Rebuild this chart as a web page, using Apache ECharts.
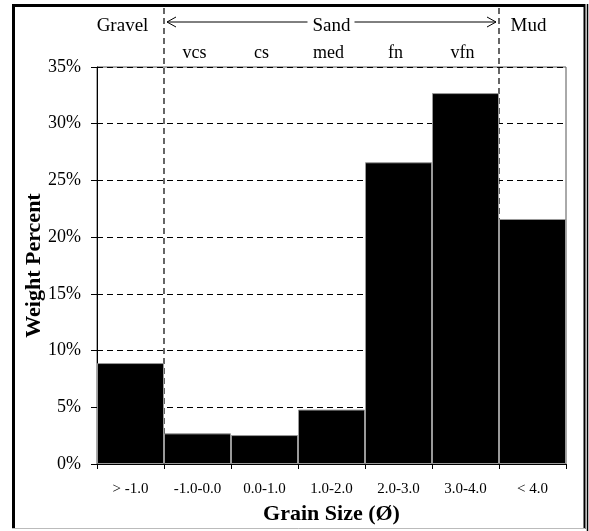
<!DOCTYPE html>
<html>
<head>
<meta charset="utf-8">
<script src="https://cdn.jsdelivr.net/npm/echarts@6/dist/echarts.min.js"></script>
<style>html,body{margin:0;padding:0;background:#fff;}#c{width:589px;height:531px;}</style>
</head>
<body>
<div id="c"></div>
<script>
const categories = ['> -1.0', '-1.0-0.0', '0.0-1.0', '1.0-2.0', '2.0-3.0', '3.0-4.0', '< 4.0'];
const values = [8.9, 2.7, 2.55, 4.8, 26.6, 32.7, 21.6];
const subLabels = ['', 'vcs', 'cs', 'med', 'fn', 'vfn', ''];
const classLabels = ['Gravel', '', '', 'Sand', '', '', 'Mud'];
const yTicks = { min: 0, max: 35, interval: 5 };

const FONT = 'Liberation Serif';
const chart = echarts.init(document.getElementById('c'), null, { renderer: 'canvas' });

const option = {
  animation: false,
  backgroundColor: '#fff',
  grid: { left: 97, right: 23, top: 67, bottom: 67, show: true, borderColor: '#555', borderWidth: 1, outerBoundsMode: 'none' },
  xAxis: [
    {
      type: 'category', data: categories, position: 'bottom', boundaryGap: true,
      axisLine: { show: true, lineStyle: { color: '#000', width: 1 } },
      axisTick: { show: true, length: 5, lineStyle: { color: '#000' } },
      axisLabel: { interval: 0, margin: 18, fontFamily: FONT, fontSize: 15, color: '#000' },
      splitLine: { show: false },
      name: 'Grain Size (Ø)', nameLocation: 'middle', nameGap: 39, nameMoveOverlap: false,
      nameTextStyle: { fontFamily: FONT, fontWeight: 'bold', fontSize: 22, color: '#000' }
    },
    {
      type: 'category', data: subLabels, position: 'top', boundaryGap: true,
      axisLine: { show: false }, axisTick: { show: false }, splitLine: { show: false },
      axisLabel: {
        interval: 0, margin: 5, fontFamily: FONT, fontSize: 18, color: '#000',
        formatter: v => v ? '{s|' + v + '}' : '',
        rich: { s: { fontFamily: FONT, fontSize: 18, color: '#000', padding: [0, 6, 0, 0] } }
      }
    },
    {
      type: 'category', data: classLabels, position: 'top', offset: 27, boundaryGap: true,
      axisLine: { show: false }, axisTick: { show: false }, splitLine: { show: false },
      axisLabel: {
        interval: 0, margin: 4, fontFamily: FONT, fontSize: 19, color: '#000',
        formatter: v => v === 'Gravel' ? '{g|' + v + '}' : (v === 'Mud' ? '{m|' + v + '}' : v),
        rich: {
          g: { fontFamily: FONT, fontSize: 19, color: '#000', padding: [0, 16, 0, 0] },
          m: { fontFamily: FONT, fontSize: 19, color: '#000', padding: [0, 8, 0, 0] }
        }
      }
    }
  ],
  yAxis: {
    type: 'value', min: yTicks.min, max: yTicks.max, interval: yTicks.interval,
    axisLine: { show: true, lineStyle: { color: '#000', width: 1 } },
    axisTick: { show: true, length: 6, lineStyle: { color: '#000' } },
    axisLabel: { formatter: '{value}%', margin: 16, fontFamily: FONT, fontSize: 18, color: '#000' },
    splitLine: { show: true, lineStyle: { type: [6, 4], color: '#000', width: 1 } },
    name: 'Weight Percent', nameLocation: 'middle', nameGap: 52, nameRotate: 90, nameMoveOverlap: false,
    nameTextStyle: { fontFamily: FONT, fontWeight: 'bold', fontSize: 22, color: '#000' }
  },
  series: [{
    type: 'bar', data: values, xAxisIndex: 0, yAxisIndex: 0,
    barCategoryGap: '0%', barGap: '0%', z: 3,
    itemStyle: { color: '#000', borderColor: '#999', borderWidth: 1 }
  }]
};
chart.setOption(option);

const cx = i => chart.convertToPixel({ xAxisIndex: 0 }, i);
const y0 = chart.convertToPixel({ yAxisIndex: 0 }, 0);
const b1 = (cx(0) + cx(1)) / 2;
const b2 = (cx(5) + cx(6)) / 2;
const sc = cx(3);
const ay = 22;
const dash = { stroke: '#000', lineWidth: 1.2, lineDash: [6, 4] };
chart.setOption({
  graphic: [
    { type: 'line', z: 1, shape: { x1: b1, y1: 8, x2: b1, y2: y0 }, style: dash },
    { type: 'line', z: 1, shape: { x1: b2, y1: 8, x2: b2, y2: y0 }, style: dash },
    { type: 'line', shape: { x1: b1 + 3, y1: ay, x2: sc - 24, y2: ay }, style: { stroke: '#000', lineWidth: 1 } },
    { type: 'line', shape: { x1: sc + 23, y1: ay, x2: b2 - 3, y2: ay }, style: { stroke: '#000', lineWidth: 1 } },
    { type: 'polyline', shape: { points: [[b1 + 12, ay - 5], [b1 + 3, ay], [b1 + 12, ay + 5]] }, style: { stroke: '#000', lineWidth: 1, fill: null } },
    { type: 'polyline', shape: { points: [[b2 - 12, ay - 5], [b2 - 3, ay], [b2 - 12, ay + 5]] }, style: { stroke: '#000', lineWidth: 1, fill: null } },
    { type: 'line', shape: { x1: 13.5, y1: 5.5, x2: 585, y2: 5.5 }, style: { stroke: '#000', lineWidth: 3 } },
    { type: 'line', shape: { x1: 13.5, y1: 4, x2: 13.5, y2: 529 }, style: { stroke: '#000', lineWidth: 3 } },
    { type: 'line', shape: { x1: 584.5, y1: 4, x2: 584.5, y2: 529 }, style: { stroke: '#000', lineWidth: 2 } },
    { type: 'line', shape: { x1: 587.5, y1: 4, x2: 587.5, y2: 531 }, style: { stroke: '#000', lineWidth: 1.5 } },
    { type: 'line', shape: { x1: 12, y1: 528.5, x2: 585, y2: 528.5 }, style: { stroke: '#bbb', lineWidth: 1 } }
  ]
});
</script>
</body>
</html>
